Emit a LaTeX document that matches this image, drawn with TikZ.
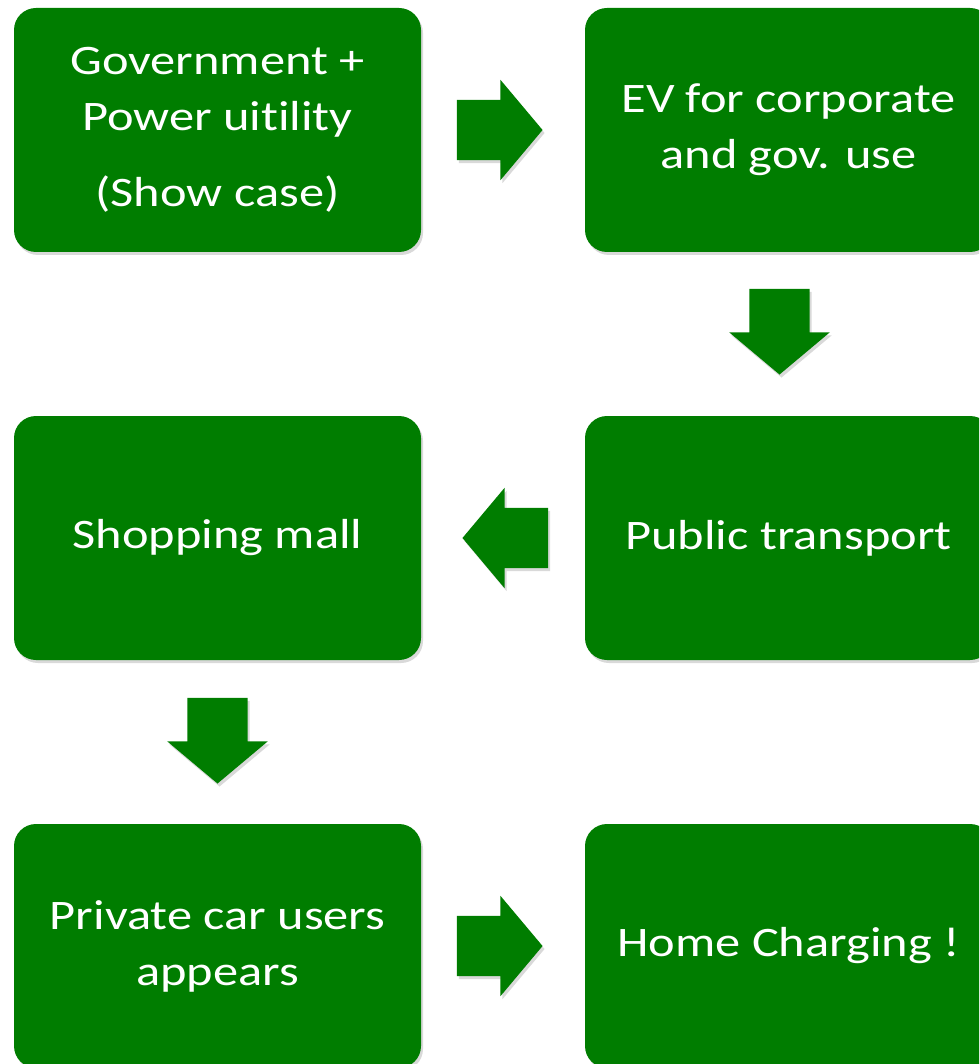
\documentclass[tikz,border=0pt]{standalone}
\usepackage{fontspec}
\setmainfont{Carlito}[FakeStretch=1.2, Ligatures=NoCommon]
\usepackage{tikz}
\usetikzlibrary{positioning,shapes,shadows,calc}

\definecolor{boxgreen}{RGB}{0,125,0}

\begin{document}
\begin{tikzpicture}[x=1pt,y=-1pt,
    box/.style={rectangle, rounded corners=22pt, fill=boxgreen, text=white,
        minimum width=407pt, minimum height=244pt, align=center,
        font=\fontsize{42}{56}\selectfont,
        drop shadow={opacity=0.3, shadow xshift=2pt, shadow yshift=-3pt}},
    blockarrow/.style={single arrow, fill=boxgreen, inner sep=30pt,
        minimum height=84pt, minimum width=100pt,
        single arrow head extend=20pt, single arrow tip angle=100,
        drop shadow={opacity=0.3, shadow xshift=2pt, shadow yshift=-3pt}}]
    \useasboundingbox (0,0) rectangle (979,1064);
    \clip (0,0) rectangle (979,1064);
    \node[box] (gov) at (217.5,130) {Government +\\Power uitility\\[20pt](Show case)};
    \node[box] (ev) at (788.5,130) {EV for corporate\\and gov. use};
    \node[box] (pub) at (788.5,538) {Public transport};
    \node[box] (mall) at (217.5,538) {Shopping mall};
    \node[box] (priv) at (217.5,946) {Private car users\\appears};
    \node[box] (home) at (788.5,946) {Home Charging !};
    % block arrows between the boxes
    \node[blockarrow] (a1) at ([xshift=-16pt]$(gov.east)!0.5!(ev.west)$) {};
    \node[blockarrow, shape border rotate=270] (a2) at ([xshift=-9pt,yshift=15pt]$(ev.south)!0.5!(pub.north)$) {};
    \node[blockarrow, shape border rotate=180] (a3) at ([xshift=15pt]$(pub.west)!0.5!(mall.east)$) {};
    \node[blockarrow, shape border rotate=270] (a4) at ([yshift=14pt]$(mall.south)!0.5!(priv.north)$) {};
    \node[blockarrow] (a5) at ([xshift=-16pt]$(priv.east)!0.5!(home.west)$) {};
\end{tikzpicture}
\end{document}
